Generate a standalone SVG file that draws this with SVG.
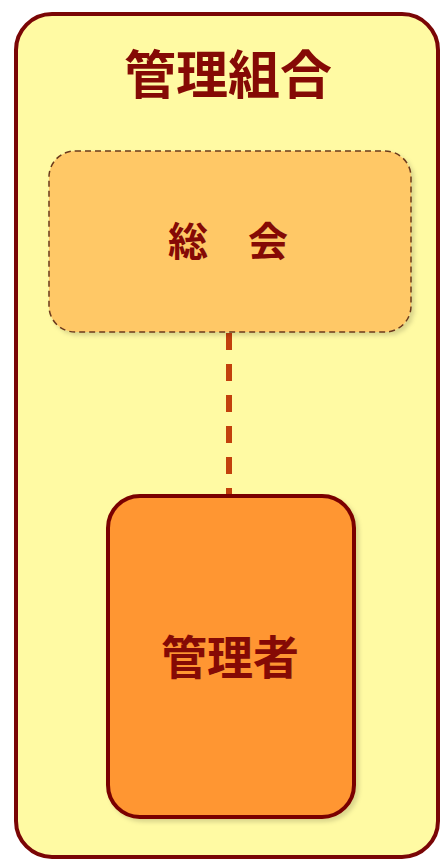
<svg xmlns="http://www.w3.org/2000/svg" width="442" height="860" viewBox="0 0 442 860">
<style>
.t{font-family:"Noto Sans CJK JP","Noto Sans CJK SC",sans-serif;font-weight:bold;fill:#850a05;text-anchor:middle}
</style>
<defs>
<filter id="sh" x="-10%" y="-10%" width="120%" height="120%">
<feDropShadow dx="3" dy="3" stdDeviation="2" flood-color="#000" flood-opacity="0.15"/>
</filter>
</defs>
<rect width="442" height="860" fill="#ffffff"/>
<g id="kumiai">
<rect x="16" y="14" width="422" height="843" rx="36" fill="#fffaa3" stroke="#7a0606" stroke-width="4"/>
<text class="t" x="228" y="94" font-size="52">管理組合</text>
</g>
<g id="connectors">
<line x1="229" y1="333" x2="229" y2="495" stroke="#c2400c" stroke-width="6" stroke-dasharray="17,14"/>
</g>
<g id="soukai">
<rect x="49" y="151" width="362" height="181" rx="26" fill="#ffc866" stroke="#6b3a1e" stroke-width="1.5" stroke-dasharray="6,4" filter="url(#sh)"/>
<text class="t" x="228" y="256" font-size="40">総　会</text>
</g>
<g id="kanrisha">
<rect x="108" y="496" width="246" height="321" rx="32" fill="#ff9630" stroke="#7a0606" stroke-width="4" filter="url(#sh)"/>
<text class="t" x="230" y="674" font-size="46">管理者</text>
</g>
</svg>
